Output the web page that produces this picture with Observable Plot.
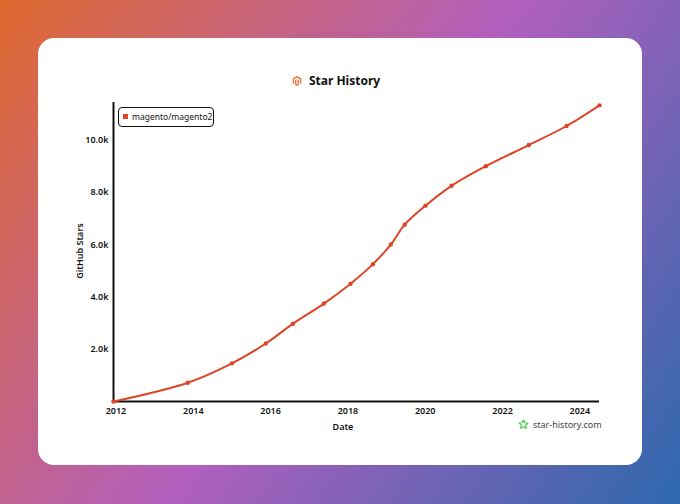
<!DOCTYPE html>
<html>
<head>
<meta charset="utf-8">
<script src="https://cdn.jsdelivr.net/npm/d3@7"></script>
<script src="https://cdn.jsdelivr.net/npm/@observablehq/plot@0.6"></script>
<style>
  html, body { margin: 0; padding: 0; }
  body {
    width: 680px; height: 504px; position: relative; overflow: hidden;
    background: linear-gradient(125deg, #e0692f 0%, #b25fbd 50%, #2c68ad 100%);
    font-family: "Noto Sans", "DejaVu Sans", sans-serif;
  }
  #card {
    position: absolute; left: 38px; top: 38px; width: 604px; height: 427px;
    background: #fff; border-radius: 16px;
  }
  #title {
    position: absolute; left: 0; top: 72px; width: 680px; text-align: center;
    font-size: 12px; font-weight: 700; color: #111; line-height: 18px;
    padding-right: 8px; box-sizing: border-box;
  }
  #title svg { vertical-align: -2px; margin-right: 7px; }
  #chart { position: absolute; left: 38px; top: 90px; }
  #legend {
    position: absolute; left: 118px; top: 107px; width: 94px; height: 18px;
    border: 1.5px solid #111; border-radius: 4px; background: #fff;
    font-size: 8.5px; line-height: 18px; color: #111; white-space: nowrap;
  }
  #legend .sw { display: inline-block; width: 5px; height: 5px; background: #dd4528; margin: 0 4px 0 4px; vertical-align: 1px; }
  #ylabel {
    position: absolute; left: 79px; top: 251px; transform: translate(-50%, -50%) rotate(-90deg);
    font-size: 9px; font-weight: 600; color: #111; white-space: nowrap;
  }
  #xlabel {
    position: absolute; left: 343px; top: 426px; transform: translate(-50%, -50%);
    font-size: 9px; font-weight: 600; color: #111;
  }
  #wm {
    position: absolute; left: 518px; top: 418px; font-size: 9px; color: #444; line-height: 13px; white-space: nowrap;
  }
  #wm svg { vertical-align: -2px; margin-right: 4px; }
</style>
</head>
<body>
<div id="card"></div>
<div id="title"><svg width="10" height="12" viewBox="0 0 24 24"><path fill="#f26322" d="M12 24l-4.455-2.572v-12l2.97-1.715v12.001L12 20.57l1.485-.856V7.714l2.97 1.715v12L12 24zM22.391 6v12l-2.969 1.714V7.713L12 3.43 4.574 7.713v12.001L1.609 18V6L12 0l10.391 6z"/></svg>Star History</div>
<div id="chart"></div>
<div id="legend"><span class="sw"></span>magento/magento2</div>
<div id="ylabel">GitHub Stars</div>
<div id="xlabel">Date</div>
<div id="wm"><svg width="11" height="11" viewBox="0 0 24 24"><path fill="none" stroke="#45c845" stroke-width="2.4" stroke-linejoin="round" d="M12 2l2.9 6.3 6.9.7-5.2 4.6 1.5 6.8L12 16.9 5.9 20.4l1.5-6.8L2.2 9l6.9-.7z"/></svg>star-history.com</div>
<script>
const dates = ["2011-12-09","2013-11-10","2015-01-01","2015-11-17","2016-07-31","2017-05-19","2018-01-26","2018-08-25","2019-02-10","2019-06-21","2020-01-04","2020-09-06","2021-07-27","2022-09-06","2023-08-29","2024-07-05"];
const stars = [0,720,1460,2220,2980,3750,4510,5260,6010,6770,7500,8260,9010,9820,10550,11340];
const xTicks = ["2012","2014","2016","2018","2020","2022","2024"];
const yTicks = [2000,4000,6000,8000,10000];
const repo = "magento/magento2";

const data = dates.map((d, i) => ({date: new Date(d), stars: stars[i], repo}));
const x0 = new Date(dates[0]), x1 = new Date(dates[dates.length - 1]);

const W = 604, H = 345;
const chart = Plot.plot({
  width: W, height: H,
  marginLeft: 75, marginRight: 43, marginTop: 12, marginBottom: 34,
  style: {fontFamily: "Noto Sans, DejaVu Sans, sans-serif", fontSize: "9px", color: "#111", background: "transparent", overflow: "visible"},
  x: {type: "utc", domain: [x0, x1], label: null},
  y: {domain: [0, 11450], label: null},
  marks: [
    Plot.axisX({ticks: xTicks.map(t => new Date(t + "-01-01")), tickFormat: d => d3.utcFormat("%Y")(d), tickSize: 0, tickPadding: 6, fontWeight: 600}),
    Plot.axisY({ticks: yTicks, tickFormat: d => (d / 1000).toFixed(1) + "k", tickSize: 0, tickPadding: 5, fontWeight: 600}),
    Plot.ruleY([0], {stroke: "#111", strokeWidth: 2, className: "sketch"}),
    Plot.ruleX([x0], {stroke: "#111", strokeWidth: 2, className: "sketch"}),
    Plot.line(data, {x: "date", y: "stars", stroke: "#dd4528", strokeWidth: 2, curve: "catmull-rom"}),
    Plot.dot(data, {x: "date", y: "stars", fill: "#dd4528", r: 2.2})
  ]
});

// gentle hand-drawn wobble on the axis lines
const svg = d3.select(chart);
const defs = svg.insert("defs", ":first-child");
const f = defs.append("filter").attr("id", "wobble").attr("filterUnits", "userSpaceOnUse")
  .attr("x", -10).attr("y", -10).attr("width", W + 20).attr("height", H + 20);
f.append("feTurbulence").attr("type", "fractalNoise").attr("baseFrequency", "0.015").attr("numOctaves", 1).attr("seed", 3).attr("result", "n");
f.append("feDisplacementMap").attr("in", "SourceGraphic").attr("in2", "n").attr("scale", 1.6).attr("xChannelSelector", "R").attr("yChannelSelector", "G");
svg.selectAll("g.sketch").attr("filter", "url(#wobble)");

document.getElementById("chart").appendChild(chart);
</script>
</body>
</html>
